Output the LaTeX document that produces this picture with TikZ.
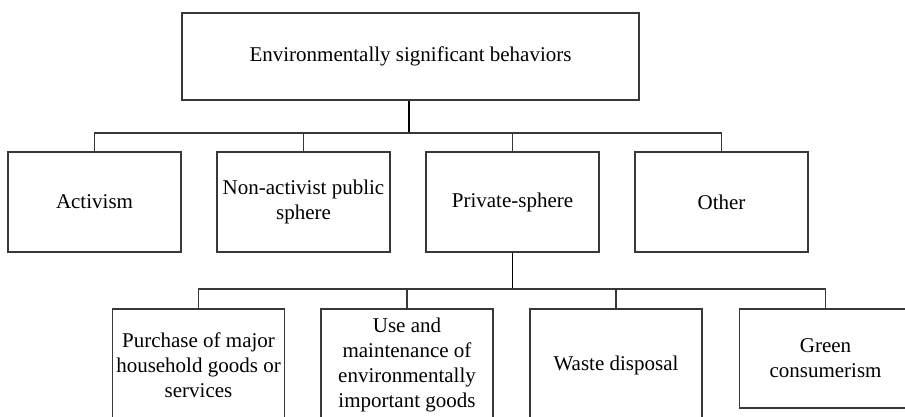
\documentclass[tikz,border=0pt]{standalone}
\usepackage{fontspec}
\setmainfont{Liberation Serif}
\definecolor{linegray}{gray}{0.22}
\begin{document}
\begin{tikzpicture}[x=1pt,y=-1pt,
  box/.style={draw=linegray, line width=1.1pt, align=center, inner sep=0pt,
    font=\fontsize{21}{25}\selectfont, text=black},
  topbox/.style={box, minimum width=457pt, minimum height=87pt},
  midbox/.style={box, minimum width=173pt, minimum height=100pt},
  lowbox/.style={box, minimum width=172pt, minimum height=112pt},
  link/.style={draw=linegray, line width=1.1pt},
  stem/.style={draw=black, line width=1.5pt}]
\useasboundingbox (0,0) rectangle (905,417);
\clip (0,0) rectangle (905,417);

% root of the tree
\node[topbox] (root) at (410.5,56.5) {Environmentally significant behaviors};

% first level
\node[midbox] (act) at (94.5,202)  {Activism};
\node[midbox] (pub) at (303.5,202) {Non-activist public\\sphere};
\node[midbox] (pri) at (512.5,202) {Private-sphere};
\node[midbox] (oth) at (721.5,202) {Other};

% second level, under the private sphere
\node[lowbox] (pur) at (198.5,365) {Purchase of major\\household goods or\\services};
\node[lowbox] (use) at (407,365)   {Use and\\maintenance of\\environmentally\\important goods};
\node[lowbox] (was) at (616,365)   {Waste disposal};
\node[box, minimum width=172pt, minimum height=99pt] (grn) at (825.5,358.5) {Green\\consumerism};

% junction points of the two buses
\coordinate (j1) at (409,133);
\coordinate (j2) at (512.5,289);

% connectors: root to first level
\draw[stem] (j1 |- root.south) -- (j1);
\draw[link] (act.north) |- (j1) -| (oth.north);
\draw[link] (pub.north) -- (pub.north |- j1);
\draw[link] (pri.north) -- (pri.north |- j1);

% connectors: private sphere to second level
\draw[stem] (pri.south) -- (j2);
\draw[link] (pur.north) |- (j2) -| (grn.north);
\draw[link] (use.north) -- (use.north |- j2);
\draw[link] (was.north) -- (was.north |- j2);
\end{tikzpicture}
\end{document}
